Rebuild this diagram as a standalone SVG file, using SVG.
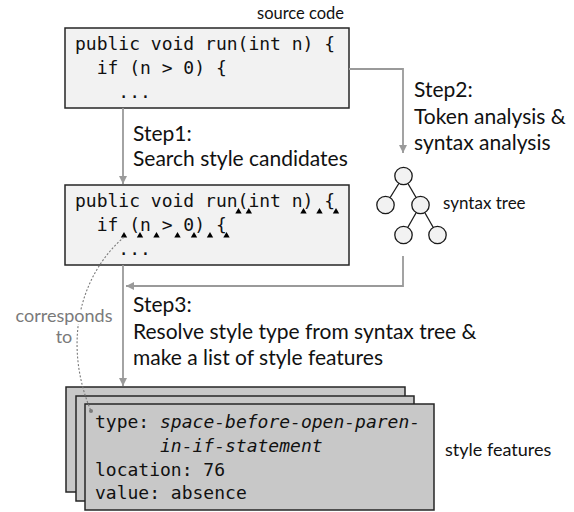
<svg xmlns="http://www.w3.org/2000/svg" width="574" height="512" viewBox="0 0 574 512">
<style>
.box{fill:#f2f2f2;stroke:#262626;stroke-width:1.5}
.card{fill:#c8c8c8;stroke:#262626;stroke-width:1.5}
.code{font-family:"DejaVu Sans Mono","Liberation Mono",monospace;font-size:18px;fill:#111}
.it{font-style:italic}
.lbl{font-family:Lato,"Liberation Sans",sans-serif;fill:#111}
.step{font-size:21px}
.conn{fill:none;stroke:#9a9a9a;stroke-width:1.8}
.dot{fill:none;stroke:#7a7a7a;stroke-width:1.1;stroke-dasharray:2 1.8}
.node{fill:#f2f2f2;stroke:#1a1a1a;stroke-width:1.3}
.edge{stroke:#1a1a1a;stroke-width:1.3}
.gray{fill:#7a7a7a;stroke:#fff;stroke-width:5;paint-order:stroke;stroke-linejoin:round}
</style>
<defs>
<marker id="arr" viewBox="0 0 10 10" refX="10" refY="5" markerWidth="8" markerHeight="8" markerUnits="userSpaceOnUse" orient="auto">
<path d="M0,0 L10,5 L0,10 z" fill="#9a9a9a"/>
</marker>
<polygon id="tri" points="-3.2,6.5 3.2,6.5 0,1"/>
</defs>

<g id="node-source">
<text class="lbl" x="257" y="19" font-size="16.5">source code</text>
<rect class="box" x="65" y="28" width="284" height="80"/>
<text class="code" x="75" y="50">public void run(int n) {</text>
<text class="code" x="75" y="74" xml:space="preserve">  if (n &gt; 0) {</text>
<text class="code" x="75" y="98" xml:space="preserve">    ...</text>
</g>

<g id="label-step1">
<text class="lbl step" x="133" y="141">Step1:</text>
<text class="lbl step" x="133" y="166">Search style candidates</text>
</g>

<g id="label-step2">
<text class="lbl step" x="414" y="97">Step2:</text>
<text class="lbl step" x="414" y="124">Token analysis &amp;</text>
<text class="lbl step" x="414" y="150">syntax analysis</text>
</g>

<g id="node-candidates">
<rect class="box" x="65" y="185" width="284" height="80"/>
<text class="code" x="75" y="207">public void run(int n) {</text>
<text class="code" x="75" y="231" xml:space="preserve">  if (n &gt; 0) {</text>
<text class="code" x="75" y="255" xml:space="preserve">    ...</text>
<g fill="#000">
<use href="#tri" x="238.5" y="207"/>
<use href="#tri" x="248.8" y="207"/>
<use href="#tri" x="303.5" y="207"/>
<use href="#tri" x="319.5" y="207"/>
<use href="#tri" x="336" y="207"/>
<use href="#tri" x="124" y="231"/>
<use href="#tri" x="140" y="231"/>
<use href="#tri" x="156.5" y="231"/>
<use href="#tri" x="177.5" y="231"/>
<use href="#tri" x="194" y="231"/>
<use href="#tri" x="210" y="231"/>
<use href="#tri" x="226.5" y="231"/>
</g>
</g>

<g id="node-tree">
<line class="edge" x1="403.5" y1="176" x2="385.5" y2="205"/>
<line class="edge" x1="403.5" y1="176" x2="420.5" y2="205"/>
<line class="edge" x1="420.5" y1="205" x2="403.5" y2="235"/>
<line class="edge" x1="420.5" y1="205" x2="437.5" y2="235"/>
<circle class="node" cx="403.5" cy="176" r="8.7"/>
<circle class="node" cx="385.5" cy="205" r="8.7"/>
<circle class="node" cx="420.5" cy="205" r="8.7"/>
<circle class="node" cx="403.5" cy="235" r="8.7"/>
<circle class="node" cx="437.5" cy="235" r="8.7"/>
<text class="lbl" x="443" y="209" font-size="17">syntax tree</text>
</g>

<g id="label-step3">
<text class="lbl step" x="133" y="312">Step3:</text>
<text class="lbl step" x="133" y="339">Resolve style type from syntax tree &amp;</text>
<text class="lbl step" x="133" y="365">make a list of style features</text>
</g>

<g id="node-features">
<rect class="card" x="66" y="387" width="339" height="105"/>
<rect class="card" x="76" y="396" width="338" height="105"/>
<rect class="card" x="85" y="404" width="349" height="106"/>
<text class="code" x="95" y="428">type: <tspan class="it">space-before-open-paren-</tspan></text>
<text class="code it" x="160" y="452">in-if-statement</text>
<text class="code" x="95" y="476">location: 76</text>
<text class="code" x="95" y="499">value: absence</text>
<text class="lbl" x="445" y="456" font-size="18">style features</text>
</g>

<g id="connectors">
<path class="conn" d="M123,108 V184" marker-end="url(#arr)"/>
<path class="conn" d="M349,69 H403 V153" marker-end="url(#arr)"/>
<path class="conn" d="M403,256 V286 H126" marker-end="url(#arr)"/>
<path class="conn" d="M123,265 V386" marker-end="url(#arr)"/>
<path class="dot" d="M124,237 C75,280 65,350 91,411"/>
<circle cx="91" cy="411" r="2" fill="#7a7a7a"/>
</g>

<g id="label-corresponds">
<text class="lbl gray" x="64" y="322" font-size="18" text-anchor="middle">corresponds</text>
<text class="lbl gray" x="64" y="343" font-size="18" text-anchor="middle">to</text>
</g>
</svg>
